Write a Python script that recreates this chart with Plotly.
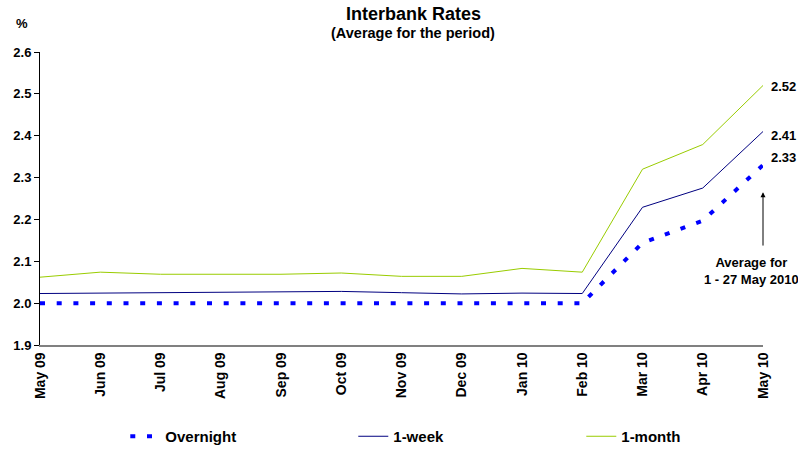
import plotly.graph_objects as go

months = ["May 09", "Jun 09", "Jul 09", "Aug 09", "Sep 09", "Oct 09", "Nov 09",
          "Dec 09", "Jan 10", "Feb 10", "Mar 10", "Apr 10", "May 10"]
overnight = [2.00, 2.00, 2.00, 2.00, 2.00, 2.00, 2.00, 2.00, 1.998, 2.00, 2.144, 2.197, 2.33]
one_week = [2.023, 2.024, 2.025, 2.025, 2.027, 2.028, 2.025, 2.022, 2.024, 2.023, 2.229, 2.275, 2.41]
one_month = [2.062, 2.074, 2.069, 2.069, 2.069, 2.072, 2.064, 2.064, 2.083, 2.074, 2.32, 2.379, 2.52]
y_ticks = [1.9, 2.0, 2.1, 2.2, 2.3, 2.4, 2.5, 2.6]

FONT = "Liberation Sans"

fig = go.Figure()
fig.add_trace(go.Scatter(x=months, y=overnight, mode="lines", name="<b>Overnight</b>",
                         line=dict(color="#0000FF", width=4, dash="5px,11.7px")))
fig.add_trace(go.Scatter(x=months, y=one_week, mode="lines", name="<b>1-week</b>",
                         line=dict(color="#000080", width=1)))
fig.add_trace(go.Scatter(x=months, y=one_month, mode="lines", name="<b>1-month</b>",
                         line=dict(color="#99CC00", width=1)))

# end-point value labels
last = months[-1]
for val, yshift in [(one_month[-1], -1), (one_week[-1], -4), (overnight[-1], 8)]:
    fig.add_annotation(x=last, y=val, text=f"<b>{val:.2f}</b>", showarrow=False,
                       xanchor="left", xshift=6, yshift=yshift,
                       font=dict(family=FONT, size=13, color="black"))

# note and arrow for the partial month
fig.add_annotation(x=last, y=2.265, ax=last, ay=2.134, axref="x", ayref="y",
                   xref="x", yref="y", text="", showarrow=True, arrowhead=2,
                   arrowsize=1, arrowwidth=1, arrowcolor="black")
fig.add_annotation(x=last, y=2.077, xref="x", yref="y", xshift=-12,
                   text="<b>Average for<br>1 - 27 May 2010</b>", showarrow=False,
                   yanchor="middle", font=dict(family=FONT, size=13, color="black"))

fig.add_annotation(x=413, y=14, xref="paper", yref="paper", text="<b>Interbank Rates</b>",
                   showarrow=False, font=dict(family=FONT, size=18, color="black"))
fig.add_annotation(x=413, y=33, xref="paper", yref="paper",
                   text="<b>(Average for the period)</b>", showarrow=False,
                   font=dict(family=FONT, size=14.5, color="black"))
fig.add_annotation(x=22, y=24, xref="paper", yref="paper", text="<b>%</b>",
                   showarrow=False, font=dict(family=FONT, size=13, color="black"))

# convert pixel positions of the header texts to paper coordinates
L, R, T, B, W, H = 40, 35, 52, 105, 798, 450
pw, ph = W - L - R, H - T - B
for ann in fig.layout.annotations[-3:]:
    px, py = ann.x, ann.y
    ann.x = (px - L) / pw
    ann.y = (H - B - py) / ph
    ann.xanchor = "center"
    ann.yanchor = "middle"

fig.update_layout(
    width=W, height=H,
    margin=dict(l=L, r=R, t=T, b=B),
    paper_bgcolor="white", plot_bgcolor="white",
    font=dict(family=FONT, size=12, color="black"),
    showlegend=True,
    legend=dict(orientation="h", xref="container", yref="container",
                x=0.157, y=0.03, xanchor="left", yanchor="middle",
                entrywidth=183, entrywidthmode="pixels",
                font=dict(family=FONT, size=15, color="black")),
    xaxis=dict(type="category", range=[0, len(months) - 1], showgrid=False,
               showline=True, linecolor="#808080", linewidth=1.5,
               tickangle=-90, ticks="", tickfont=dict(family=FONT, size=14, color="black"),
               tickprefix="<b>", ticksuffix="</b>"),
    yaxis=dict(range=[1.9, 2.6], tickvals=y_ticks, ticktext=[f"<b>{v:.1f}</b>" for v in y_ticks],
               showgrid=False, zeroline=False, showline=True, linecolor="black",
               linewidth=1, ticks="outside", ticklen=5, tickcolor="black",
               tickfont=dict(family=FONT, size=13, color="black")),
)

fig.write_html("out.html")
